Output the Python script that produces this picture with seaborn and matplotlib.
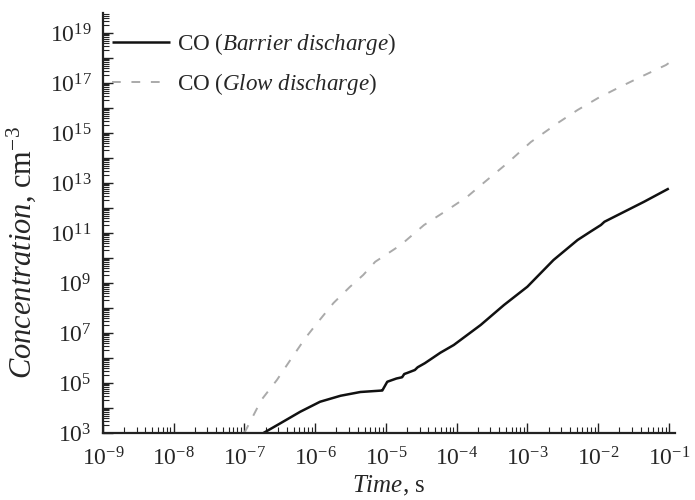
import numpy as np
import pandas as pd
import matplotlib
matplotlib.use("Agg")
import matplotlib.pyplot as plt
import matplotlib.ticker as mticker
import seaborn as sns

# exponents (log10 of time in s, log10 of concentration in cm^-3)
barrier_logt = [-6.73, -6.49, -6.21, -5.93, -5.64, -5.36, -5.10, -5.05, -5.01, -4.98,
                -4.85, -4.77, -4.74, -4.70, -4.59, -4.55, -4.45, -4.35, -4.23, -4.04,
                -3.66, -3.33, -3.00, -2.63, -2.29, -2.11, -1.96, -1.91, -1.63, -1.35, -1.00]
barrier_logc = [3.00, 3.39, 3.85, 4.25, 4.49, 4.64, 4.69, 4.70, 4.90, 5.05,
                5.18, 5.23, 5.36, 5.40, 5.52, 5.63, 5.79, 5.98, 6.21, 6.52,
                7.32, 8.12, 8.85, 9.92, 10.72, 11.05, 11.32, 11.45, 11.85, 12.25, 12.78]

glow_logt = [-7.00, -6.76, -6.54, -6.35, -6.14, -5.97, -5.74, -5.51, -5.32, -5.15,
             -4.79, -4.46, -4.13, -3.85, -3.62, -3.28, -2.95, -2.57, -2.29, -2.00,
             -1.72, -1.43, -1.04, -1.00]
glow_logc = [3.00, 4.32, 5.12, 5.92, 6.79, 7.40, 8.20, 8.84, 9.32, 9.85,
             10.52, 11.32, 11.92, 12.45, 13.00, 13.80, 14.64, 15.40, 15.92, 16.40,
             16.80, 17.20, 17.72, 17.80]

labels = [r"CO ($\it{Barrier\ discharge}$)", r"CO ($\it{Glow\ discharge}$)"]

df = pd.concat([
    pd.DataFrame({"t": 10.0 ** np.array(barrier_logt), "c": 10.0 ** np.array(barrier_logc), "s": labels[0]}),
    pd.DataFrame({"t": 10.0 ** np.array(glow_logt), "c": 10.0 ** np.array(glow_logc), "s": labels[1]}),
])

sns.set_style("ticks")
plt.rcParams["font.family"] = ["Liberation Serif", "DejaVu Serif"]
plt.rcParams["mathtext.fontset"] = "custom"
plt.rcParams["mathtext.rm"] = "Liberation Serif"
plt.rcParams["mathtext.it"] = "Liberation Serif:italic"

fig = plt.figure(figsize=(6.95, 5.0), dpi=100)
ax = fig.add_axes([0.148, 0.134, 0.823, 0.840])

sns.lineplot(data=df, x="t", y="c", hue="s", style="s",
             palette=["#111111", "#aaaaaa"], dashes=[(1, 0), (4.5, 5.5)],
             sort=False, ax=ax)
for ln, lw in zip(ax.lines, [1.8, 1.4]):
    ln.set_linewidth(lw)

ax.set_xscale("log")
ax.set_yscale("log")
ax.set_xlim(1e-9, 10 ** -0.915)
ax.set_ylim(1e3, 10 ** 19.8)

ax.xaxis.set_major_locator(mticker.FixedLocator([10.0 ** k for k in range(-9, 0)]))
ax.xaxis.set_major_formatter(mticker.FuncFormatter(lambda v, p: r"$10^{%d}$" % round(np.log10(v))))
ax.yaxis.set_major_locator(mticker.FixedLocator([10.0 ** k for k in range(3, 20)]))
ax.yaxis.set_major_formatter(mticker.FuncFormatter(
    lambda v, p: r"$10^{%d}$" % round(np.log10(v)) if round(np.log10(v)) % 2 == 1 else ""))
ax.xaxis.set_minor_locator(mticker.LogLocator(base=10, subs=np.arange(2, 10), numticks=100))
ax.yaxis.set_minor_locator(mticker.LogLocator(base=10, subs=np.arange(2, 10), numticks=100))
ax.xaxis.set_minor_formatter(mticker.NullFormatter())
ax.yaxis.set_minor_formatter(mticker.NullFormatter())

ax.tick_params(which="major", direction="in", length=7, width=1.0, labelsize=17, color="#222222")
ax.tick_params(which="minor", direction="in", length=4, width=0.8, color="#222222")
ax.tick_params(axis="x", which="major", pad=10)
ax.tick_params(axis="y", which="major", pad=8)

sns.despine(ax=ax)
for sp in ["left", "bottom"]:
    ax.spines[sp].set_linewidth(1.6)
    ax.spines[sp].set_color("#222222")

ax.set_xlabel(r"$\it{Time}$, s", fontsize=18)
ax.set_ylabel(r"$\it{Concentration}$, cm$^{-3}$", fontsize=22)
ax.xaxis.set_label_coords(0.5, -0.098)
ax.yaxis.set_label_coords(-0.114, 0.43)

leg = ax.legend(loc="upper left", bbox_to_anchor=(0.0, 0.978), frameon=False, fontsize=16.6,
                handlelength=2.5, handletextpad=0.3, labelspacing=0.6, borderaxespad=0.0)
leg.legend_handles[0].set_linewidth(1.8)
leg.legend_handles[1].set_linewidth(1.4)

fig.savefig("out.png", dpi=100)
